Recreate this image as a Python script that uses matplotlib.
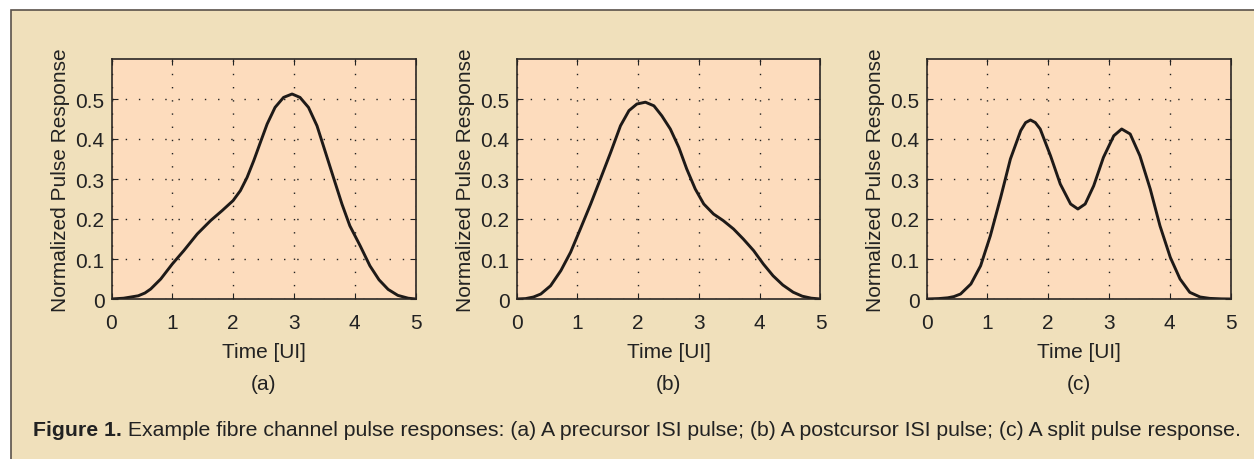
import matplotlib.pyplot as plt
from matplotlib.patches import Rectangle

# pulse responses (time in UI, normalized amplitude)
t_a = [0.0, 0.2, 0.44, 0.55, 0.645, 0.81, 1.0, 1.19, 1.41, 1.63, 1.82, 2.0, 2.12,
       2.23, 2.34, 2.45, 2.56, 2.69, 2.83, 2.97, 3.10, 3.24, 3.38, 3.51, 3.65, 3.79,
       3.92, 4.09, 4.25, 4.4, 4.55, 4.71, 4.88, 5.0]
p_a = [0.0, 0.002, 0.008, 0.015, 0.025, 0.05, 0.0875, 0.121, 0.1625, 0.196, 0.221,
       0.246, 0.271, 0.304, 0.346, 0.392, 0.4375, 0.479, 0.504, 0.5125, 0.504, 0.479,
       0.433, 0.371, 0.304, 0.2375, 0.183, 0.133, 0.083, 0.048, 0.024, 0.009, 0.002,
       0.0]

t_b = [0.0, 0.15, 0.28, 0.40, 0.56, 0.73, 0.89, 1.05, 1.22, 1.38, 1.55, 1.71, 1.85,
       1.98, 2.12, 2.26, 2.39, 2.53, 2.67, 2.80, 2.94, 3.08, 3.24, 3.40, 3.57, 3.73,
       3.90, 4.06, 4.22, 4.38, 4.55, 4.70, 4.85, 5.0]
p_b = [0.0, 0.001, 0.005, 0.0125, 0.033, 0.071, 0.117, 0.175, 0.2375, 0.30, 0.367,
       0.433, 0.471, 0.4875, 0.492, 0.483, 0.458, 0.425, 0.379, 0.325, 0.275, 0.2375,
       0.2125, 0.196, 0.175, 0.15, 0.121, 0.0875, 0.058, 0.035, 0.017, 0.007, 0.002,
       0.0]

t_c = [0.0, 0.2, 0.35, 0.45, 0.56, 0.73, 0.89, 1.05, 1.22, 1.38, 1.55, 1.63, 1.71,
       1.79, 1.87, 2.04, 2.20, 2.37, 2.49, 2.61, 2.75, 2.91, 3.08, 3.21, 3.35, 3.51,
       3.68, 3.84, 4.01, 4.17, 4.33, 4.5, 4.66, 4.85, 5.0]
p_c = [0.0, 0.001, 0.003, 0.006, 0.0125, 0.0375, 0.083, 0.158, 0.254, 0.35, 0.421,
       0.441, 0.4475, 0.441, 0.425, 0.358, 0.2875, 0.2375, 0.225, 0.2375, 0.283,
       0.354, 0.408, 0.425, 0.4125, 0.358, 0.275, 0.183, 0.104, 0.05, 0.0167, 0.005,
       0.0015, 0.0003, 0.0]

panels = [(t_a, p_a, "(a)"), (t_b, p_b, "(b)"), (t_c, p_c, "(c)")]
x_ticks = [0, 1, 2, 3, 4, 5]
y_ticks = [0, 0.1, 0.2, 0.3, 0.4, 0.5]

caption_bold = "Figure 1."
caption_text = (" Example fibre channel pulse responses: (a) A precursor ISI pulse; "
                "(b) A postcursor ISI pulse; (c) A split pulse response.")

W, H = 1254, 460
plt.rcParams["font.family"] = ["Liberation Sans", "DejaVu Sans"]

fig = plt.figure(figsize=(W / 100, H / 100), dpi=100)
fig.patch.set_facecolor("white")

# beige panel behind everything
fig.patches.append(Rectangle((11 / W, -0.1), 1.2, 1 - 11 / H + 0.1,
                             transform=fig.transFigure, facecolor="#f0e0bb",
                             edgecolor="#5a524a", linewidth=1.2, zorder=-10))

fs = 15
lefts = [111.5, 516.5, 926.5]
for (t, p, tag), left in zip(panels, lefts):
    ax = fig.add_axes([left / W, 1 - 300 / H, 304 / W, 240 / H])
    ax.set_facecolor("#fddcbd")
    ax.plot(t, p, color="#1e1a18", linewidth=2.1, solid_joinstyle="round")
    ax.set_xlim(0, 5)
    ax.set_ylim(0, 0.6)
    ax.set_xticks(x_ticks)
    ax.set_yticks(y_ticks)
    ax.set_xticklabels([str(v) for v in x_ticks])
    ax.set_yticklabels(["0"] + [f"{v:.1f}" for v in y_ticks[1:]])
    ax.tick_params(direction="in", top=True, right=True, length=4, width=0.8,
                   labelsize=fs, colors="#222222")
    ax.tick_params(axis="x", pad=10)
    ax.tick_params(axis="y", pad=5)
    ax.grid(True, color="#222222", linestyle=(0, (1, 8.5)), linewidth=1.0)
    for s in ax.spines.values():
        s.set_color("#2a2624")
        s.set_linewidth(1.2)
    ax.set_xlabel("Time [UI]", fontsize=fs, color="#222222", labelpad=7)
    ax.set_ylabel("Normalized Pulse Response", fontsize=fs, color="#222222",
                  labelpad=4)
    ax.text(0.5, -0.354, tag, transform=ax.transAxes, ha="center", va="center",
            fontsize=fs, color="#222222")

# caption: pick the font size that spans the same width as the reference
cap_y = 1 - 431 / H
size = 14.0
for _ in range(4):
    tb = fig.text(33 / W, cap_y, caption_bold, fontsize=size, fontweight="bold",
                  color="#222222", va="center")
    fig.canvas.draw()
    b1 = tb.get_window_extent()
    tr = fig.text(b1.x1 / W, cap_y, caption_text, fontsize=size,
                  color="#222222", va="center")
    fig.canvas.draw()
    width = tr.get_window_extent().x1 - b1.x0
    tb.remove()
    tr.remove()
    size *= 1211 / width

tb = fig.text(33 / W, cap_y, caption_bold, fontsize=size, fontweight="bold",
              color="#222222", va="center")
fig.canvas.draw()
fig.text(tb.get_window_extent().x1 / W, cap_y, caption_text, fontsize=size,
         color="#222222", va="center")

fig.savefig("out.png", dpi=100, facecolor=fig.get_facecolor())
